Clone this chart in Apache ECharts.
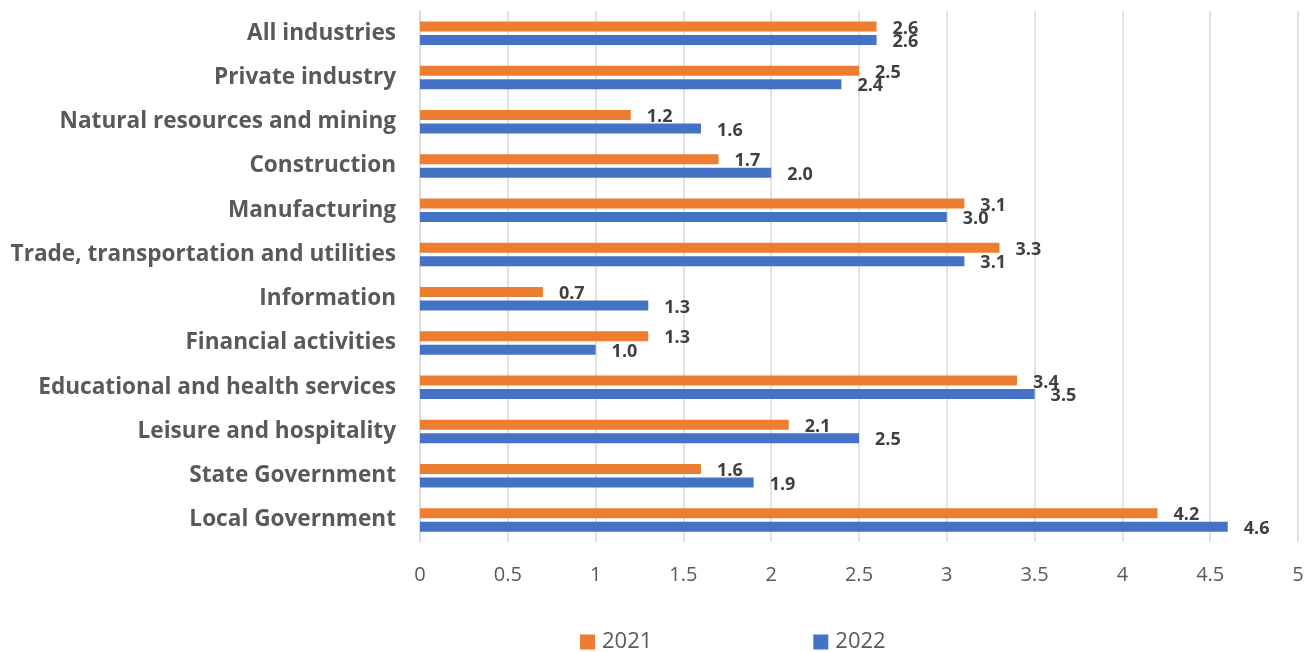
<!DOCTYPE html>
<html>
<head>
<meta charset="utf-8">
<script src="https://cdn.jsdelivr.net/npm/echarts@6/dist/echarts.min.js"></script>
<style>
  html, body { margin: 0; padding: 0; background: #fff; }
  #chart { width: 1312px; height: 652px; }
</style>
</head>
<body>
<div id="chart"></div>
<script>
const industries = [
  'All industries',
  'Private industry',
  'Natural resources and mining',
  'Construction',
  'Manufacturing',
  'Trade, transportation and utilities',
  'Information',
  'Financial activities',
  'Educational and health services',
  'Leisure and hospitality',
  'State Government',
  'Local Government'
];
const values2021 = [2.6, 2.5, 1.2, 1.7, 3.1, 3.3, 0.7, 1.3, 3.4, 2.1, 1.6, 4.2];
const values2022 = [2.6, 2.4, 1.6, 2.0, 3.0, 3.1, 1.3, 1.0, 3.5, 2.5, 1.9, 4.6];
const xTicks = [0, 0.5, 1, 1.5, 2, 2.5, 3, 3.5, 4, 4.5, 5];

const chart = echarts.init(document.getElementById('chart'));

// data labels sit just right of each bar, bold like the original
const barLabel = {
  show: true,
  position: 'right',
  distance: 16,
  offset: [0, 2],
  fontFamily: 'Open Sans',
  fontSize: 18,
  fontWeight: 'bold',
  color: '#404040',
  formatter: p => p.value.toFixed(1)
};

const option = {
  animation: false,
  textStyle: { fontFamily: 'Open Sans' },
  grid: { left: 420, right: 14, top: 11, bottom: 110, containLabel: false },
  legend: {
    left: 580,
    top: 631,
    padding: 0,
    itemWidth: 15,
    itemHeight: 15,
    itemGap: 161,
    icon: 'rect',
    textStyle: { fontFamily: 'Open Sans', fontSize: 22, color: '#595959', padding: [0, 0, 0, 2] },
    data: ['2021', '2022']
  },
  xAxis: {
    type: 'value',
    min: xTicks[0],
    max: xTicks[xTicks.length - 1],
    interval: 0.5,
    axisLine: { show: false },
    axisTick: { show: false },
    axisLabel: { fontSize: 20, color: '#595959', margin: 23 },
    splitLine: { lineStyle: { color: '#d9d9d9', width: 1.5 } }
  },
  yAxis: {
    type: 'category',
    inverse: true,
    data: industries,
    axisLine: { lineStyle: { color: '#d9d9d9', width: 1.5 } },
    axisTick: { length: 8, lineStyle: { color: '#d9d9d9', width: 1.5 } },
    axisLabel: { fontSize: 22.6, fontWeight: 'bold', color: '#595959', margin: 24 }
  },
  series: [
    {
      name: '2021',
      type: 'bar',
      data: values2021,
      barWidth: 10,
      barGap: '35%',
      itemStyle: { color: '#ed7d31' },
      label: barLabel
    },
    {
      name: '2022',
      type: 'bar',
      data: values2022,
      barWidth: 10,
      itemStyle: { color: '#4472c4' },
      label: barLabel
    }
  ]
};

chart.setOption(option);
</script>
</body>
</html>
